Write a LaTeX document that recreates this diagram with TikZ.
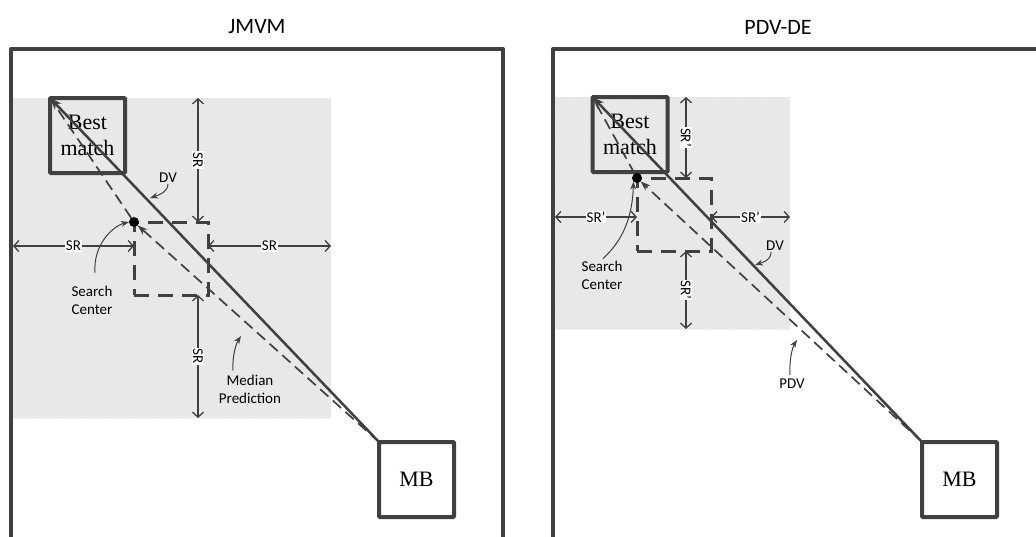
\documentclass[tikz,border=0pt]{standalone}
\usepackage{fontspec}
\setmainfont{Liberation Serif}
\newfontfamily\labfont{Carlito}
\usetikzlibrary{arrows.meta,patterns,calc}
\definecolor{ink}{HTML}{404040}
\tikzset{
  panel/.style={draw=ink, line width=4pt, line join=round},
  blockbox/.style={draw=ink, line width=4pt, rounded corners=1pt, minimum size=75pt,
    inner sep=0pt, outer sep=0pt, align=center, font=\fontsize{22}{26}\selectfont},
  area/.style={draw=none, fill=gray!20, postaction={pattern=crosshatch, pattern color=white!85!gray},
    inner sep=0pt, outer sep=0pt},
  searchwin/.style={draw=ink, line width=3pt, dash pattern=on 15pt off 9pt,
    inner sep=0pt, outer sep=0pt, minimum width=74pt, minimum height=73pt, anchor=north west},
  dimarrow/.style={draw=ink, line width=1.3pt,
    {Straight Barb[length=5pt,width=11pt]}-{Straight Barb[length=5pt,width=11pt]}},
  dimlabel/.style={fill=white, inner sep=1pt, font=\labfont\fontsize{15}{15}\selectfont},
  dvline/.style={draw=ink, line width=2.5pt, -{Stealth[length=12pt,width=9pt]}},
  pred/.style={draw=ink, line width=1.7pt, dash pattern=on 11pt off 6pt},
  pointer/.style={draw=ink, line width=1pt, -{Stealth[length=8pt,width=6pt]}},
  notetext/.style={font=\labfont\fontsize{15}{18}\selectfont, align=center, inner sep=1pt},
  centerdot/.style={circle, fill=black, minimum size=10pt, inner sep=0pt, outer sep=0pt},
  paneltitle/.style={font=\labfont\fontsize{22}{26}\selectfont}
}
\begin{document}
\begin{tikzpicture}[x=1pt,y=-1pt]
\clip (0,0) rectangle (1036,536);
\fill[white] (0,0) rectangle (1036,536);

% ---------------- JMVM ----------------
\node[paneltitle] (tL) at (257,27) {JMVM};
\draw[panel] (11,560) -- (11,49) -- (503,49) -- (503,560);
\node[area, minimum width=318pt, minimum height=320pt, anchor=north west] (aL) at (13,98) {};
\node[blockbox] (bmL) at (87.5,135.5) {Best\\match};
\node[blockbox, fill=white] (mbL) at (416.5,479.5) {MB};
\node[searchwin] (swL) at (134,222) {};
\node[centerdot] (scL) at (134,222) {};

\draw[pred] (scL) -- (bmL.north west);
\draw[pred, -{Stealth[length=10pt,width=7pt]}] (mbL.north west) -- (scL);
\draw[dvline] (mbL.north west) -- (bmL.north west);

\coordinate (vL) at (198,0);
\coordinate (hL) at (0,246);
\draw[dimarrow] (aL.north -| vL) -- node[dimlabel, rotate=-90] {SR} (swL.north -| vL);
\draw[dimarrow] (swL.south -| vL) -- node[dimlabel, rotate=-90] {SR} (aL.south -| vL);
\draw[dimarrow] (aL.west |- hL) -- node[dimlabel] {SR} (swL.west |- hL);
\draw[dimarrow] (swL.east |- hL) -- node[dimlabel] {SR} (aL.east |- hL);

\node[notetext] (dvL) at (168,178) {DV};
\coordinate (dvtipL) at (150,198);
\draw[pointer] (dvL.south) .. controls +(0,8) and +(9,-3) .. (dvtipL);

\node[notetext] (scTxtL) at (92,300) {Search\\Center};
\draw[pointer] ($(scTxtL.north)+(3,-12)$) .. controls +(-2,-28) and +(-16,4) .. (scL.west);

\node[notetext] (mpL) at (250,389) {Median\\Prediction};
\coordinate (mptipL) at (241,336);
\draw[pointer] ($(mpL.north)+(-17,-3)$) .. controls +(-1,-16) and +(-4,6) .. (mptipL);

% ---------------- PDV-DE ----------------
\node[paneltitle] (tR) at (778,27) {PDV-DE};
\draw[panel] (553,560) -- (553,49) -- (1050,49);
\node[area, minimum width=235pt, minimum height=232pt, anchor=north west] (aR) at (555,97) {};
\node[blockbox] (bmR) at (630,134.5) {Best\\match};
\node[blockbox, fill=white] (mbR) at (959.5,479.5) {MB};
\node[searchwin] (swR) at (637,178) {};
\node[centerdot] (scR) at (637,178) {};

\draw[pred] (scR) -- (bmR.north west);
\draw[pred, -{Stealth[length=10pt,width=7pt]}] (mbR.north west) -- (scR);
\draw[dvline] (mbR.north west) -- (bmR.north west);

\coordinate (vR) at (686,0);
\coordinate (hR) at (0,217);
\draw[dimarrow] (aR.north -| vR) -- node[dimlabel, rotate=-90] {SR’} (swR.north -| vR);
\draw[dimarrow] (swR.south -| vR) -- node[dimlabel, rotate=-90] {SR’} (aR.south -| vR);
\draw[dimarrow] (aR.west |- hR) -- node[dimlabel] {SR’} (swR.west |- hR);
\draw[dimarrow] (swR.east |- hR) -- node[dimlabel] {SR’} (aR.east |- hR);

\node[notetext] (dvR) at (775,246) {DV};
\coordinate (dvtipR) at (755,265);
\draw[pointer] ($(dvR.south)+(-4,0)$) .. controls +(0,8) and +(9,-3) .. (dvtipR);

\node[notetext] (scTxtR) at (602,275) {Search\\Center};
\draw[pointer] ($(scTxtR.north)+(1,-1)$) .. controls +(20,-18) and +(-1,35) .. (scR.south west);

\node[notetext] (pdvR) at (792,384) {PDV};
\coordinate (pdvtipR) at (797,340);
\draw[pointer] ($(pdvR.north)+(-2,-3)$) .. controls +(-1,-16) and +(-4,6) .. (pdvtipR);
\end{tikzpicture}
\end{document}
